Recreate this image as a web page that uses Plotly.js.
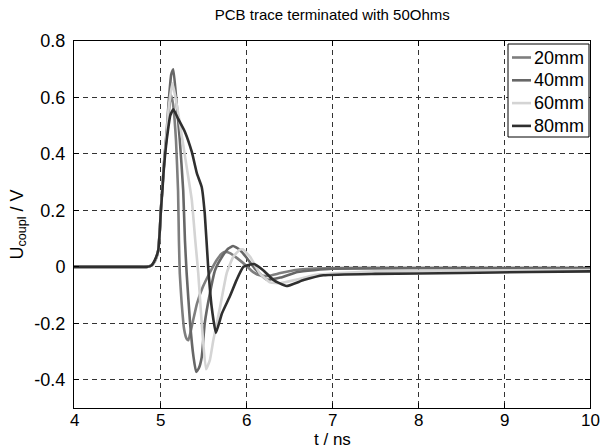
<!DOCTYPE html>
<html>
<head>
<meta charset="utf-8">
<script src="https://cdn.plot.ly/plotly-3.0.1.min.js"></script>
<style>html,body{margin:0;padding:0;background:#fff}#chart{width:603px;height:448px}</style>
</head>
<body>
<div id="chart"></div>
<script>
// Series labels
const seriesNames = ["20mm", "40mm", "60mm", "80mm"];

// 20mm
const t20 = [4, 4.4, 4.7, 4.85, 4.9, 4.93, 4.96, 4.98, 5.0, 5.01, 5.03, 5.05, 5.08, 5.1, 5.125, 5.15, 5.17, 5.186, 5.21, 5.22, 5.23, 5.25, 5.28, 5.31, 5.33, 5.37, 5.43, 5.5, 5.58, 5.66, 5.72, 5.76, 5.82, 5.9, 6.0, 6.08, 6.16, 6.26, 6.4, 6.6, 7.0, 8.0, 9.0, 10.0];
const v20 = [0, 0, 0, 0, 0.005, 0.015, 0.035, 0.06, 0.14, 0.2, 0.29, 0.38, 0.47, 0.54, 0.61, 0.58, 0.52, 0.448, 0.27, 0.094, -0.023, -0.12, -0.22, -0.255, -0.26, -0.21, -0.13, -0.07, -0.02, 0.024, 0.047, 0.053, 0.048, 0.03, 0.005, -0.018, -0.03, -0.032, -0.022, -0.01, -0.004, -0.003, -0.003, -0.003];

// 40mm
const t40 = [4, 4.4, 4.7, 4.85, 4.9, 4.93, 4.96, 4.98, 5.0, 5.01, 5.03, 5.05, 5.08, 5.1, 5.13, 5.155, 5.19, 5.23, 5.27, 5.29, 5.31, 5.35, 5.39, 5.42, 5.45, 5.485, 5.52, 5.58, 5.64, 5.72, 5.795, 5.85, 5.92, 6.0, 6.1, 6.24, 6.4, 6.6, 7.0, 8.0, 9.0, 10.0];
const v40 = [0, 0, 0, 0, 0.005, 0.015, 0.035, 0.06, 0.14, 0.2, 0.29, 0.38, 0.49, 0.58, 0.68, 0.70, 0.59, 0.45, 0.27, 0.094, -0.023, -0.2, -0.32, -0.372, -0.36, -0.32, -0.2, -0.094, -0.012, 0.035, 0.065, 0.074, 0.062, 0.035, -0.005, -0.045, -0.038, -0.018, -0.007, -0.005, -0.005, -0.005];

// 60mm
const t60 = [4, 4.4, 4.7, 4.85, 4.9, 4.93, 4.96, 4.98, 5.0, 5.01, 5.03, 5.05, 5.08, 5.1, 5.145, 5.18, 5.23, 5.31, 5.37, 5.41, 5.445, 5.485, 5.535, 5.58, 5.62, 5.7, 5.775, 5.85, 5.93, 5.96, 6.05, 6.16, 6.28, 6.4, 6.59, 6.82, 7.5, 8.5, 10.0];
const v60 = [0, 0, 0, 0, 0.005, 0.015, 0.035, 0.06, 0.14, 0.2, 0.29, 0.38, 0.48, 0.56, 0.65, 0.6, 0.51, 0.354, 0.236, 0.094, -0.023, -0.2, -0.363, -0.33, -0.26, -0.14, -0.023, 0.035, 0.061, 0.062, 0.035, -0.023, -0.055, -0.058, -0.045, -0.028, -0.016, -0.013, -0.011];

// 80mm
const t80 = [4, 4.4, 4.7, 4.84, 4.9, 4.94, 4.98, 5.0, 5.01, 5.03, 5.04, 5.06, 5.08, 5.12, 5.155, 5.21, 5.29, 5.37, 5.43, 5.485, 5.52, 5.56, 5.6, 5.65, 5.72, 5.81, 5.89, 5.97, 6.09, 6.2, 6.32, 6.47, 6.67, 6.9, 7.5, 8.5, 9.3, 10.0];
const v80 = [0, 0, 0, 0, 0.005, 0.024, 0.059, 0.14, 0.2, 0.28, 0.33, 0.4, 0.455, 0.537, 0.558, 0.525, 0.478, 0.407, 0.33, 0.283, 0.19, 0, -0.14, -0.234, -0.165, -0.106, -0.047, 0, 0.01, -0.012, -0.047, -0.068, -0.047, -0.03, -0.025, -0.022, -0.018, -0.016];

const xTicks = [4, 5, 6, 7, 8, 9, 10];
const yTicks = [-0.4, -0.2, 0, 0.2, 0.4, 0.6, 0.8];
const yTickText = ["-0.4", "-0.2", "0", "0.2", "0.4", "0.6", "0.8"];

const seriesT = [t20, t40, t60, t80];
const seriesV = [v20, v40, v60, v80];
const seriesColors = ["#7e7e7e", "#676767", "#d4d4d4", "#2f2f2f"];

const traces = seriesNames.map((name, i) => ({
  x: seriesT[i],
  y: seriesV[i],
  name: name,
  type: "scatter",
  mode: "lines",
  showlegend: false,
  line: {color: seriesColors[i], width: 2.6, shape: "spline", smoothing: 0.4}
}));

const FONT = "Liberation Sans, Arial, sans-serif";
const W = 603, H = 448;
const M = {l: 74, r: 13, t: 41, b: 40};
const PW = W - M.l - M.r, PH = H - M.t - M.b;
// pixel -> paper helpers (for legend box / labels layout only)
const px = (x) => (x - M.l) / PW;
const py = (y) => (H - M.b - y) / PH;

const axisCommon = {
  showline: true, linecolor: "#000", linewidth: 1, mirror: "ticks",
  ticks: "inside", ticklen: 5, tickcolor: "#000",
  showgrid: true, gridcolor: "#333", gridwidth: 1, griddash: "5px,4px",
  zeroline: false,
  tickfont: {family: FONT, size: 18, color: "#000"}
};

// Custom legend (box, sample lines, labels)
const legendBox = {x0: 508, x1: 589, y0: 44, y1: 137};
const legendShapes = [{
  type: "rect", xref: "paper", yref: "paper",
  x0: px(legendBox.x0), x1: px(legendBox.x1), y0: py(legendBox.y1), y1: py(legendBox.y0),
  line: {color: "#000", width: 1}, fillcolor: "#fff", layer: "above"
}];
const legendAnn = [];
seriesNames.forEach((name, i) => {
  const yc = 57.5 + i * 22.8;
  legendShapes.push({type: "line", xref: "paper", yref: "paper",
    x0: px(512), x1: px(531), y0: py(yc), y1: py(yc),
    line: {color: seriesColors[i], width: 2.6}, layer: "above"});
  legendAnn.push({text: name, xref: "paper", yref: "paper", x: px(532), y: py(yc),
    xanchor: "left", yanchor: "middle", showarrow: false,
    font: {family: FONT, size: 18, color: "#000"}});
});

// x tick labels placed just under the axis (tight, as in the reference)
const xTickAnn = xTicks.map((v) => ({
  text: String(v), xref: "x", yref: "paper", x: v, y: py(420),
  xanchor: "center", yanchor: "middle", showarrow: false, borderpad: 0,
  font: {family: FONT, size: 17, color: "#000"}
}));

const layout = {
  width: W, height: H,
  margin: M,
  paper_bgcolor: "#fff", plot_bgcolor: "#fff",
  title: {text: "PCB trace terminated with 50Ohms", x: 0.551, xanchor: "center", y: 0.968, yanchor: "middle",
          font: {family: FONT, size: 15, color: "#000"}},
  xaxis: Object.assign({}, axisCommon, {
    range: [4, 10], tickvals: xTicks, showticklabels: false
  }),
  yaxis: Object.assign({}, axisCommon, {
    range: [-0.5, 0.8], tickvals: yTicks, ticktext: yTickText,
    ticklabelstandoff: 4,
    title: {text: "U<sub>coupl</sub> / V", standoff: 6, font: {family: FONT, size: 18, color: "#000"}}
  }),
  shapes: legendShapes,
  annotations: legendAnn.concat(xTickAnn, [{
    text: "t / ns", xref: "paper", yref: "paper", x: 0.5, y: py(439),
    xanchor: "center", yanchor: "middle", showarrow: false, borderpad: 0,
    font: {family: FONT, size: 17, color: "#000"}
  }]),
  showlegend: false
};

Plotly.newPlot("chart", traces, layout, {staticPlot: true, displayModeBar: false});
</script>
</body>
</html>
